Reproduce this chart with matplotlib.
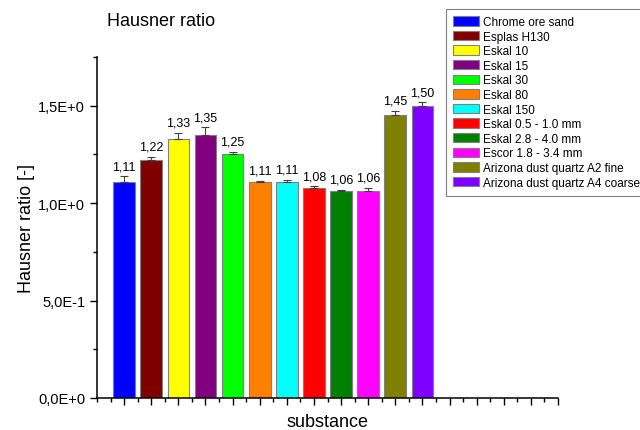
import matplotlib
matplotlib.use("Agg")
import matplotlib.pyplot as plt
from matplotlib.ticker import FixedLocator
from matplotlib.patches import Patch

plt.rcParams['font.family'] = ['Liberation Sans', 'DejaVu Sans']

substances = ["Chrome ore sand", "Esplas H130", "Eskal 10", "Eskal 15", "Eskal 30",
              "Eskal 80", "Eskal 150", "Eskal 0.5 - 1.0 mm", "Eskal 2.8 - 4.0 mm",
              "Escor 1.8 - 3.4 mm", "Arizona dust quartz A2 fine",
              "Arizona dust quartz A4 coarse"]
hausner = [1.11, 1.22, 1.33, 1.35, 1.25, 1.11, 1.11, 1.08, 1.06, 1.06, 1.45, 1.50]
errors = [0.028, 0.017, 0.032, 0.039, 0.014, 0.005, 0.010, 0.007, 0.010, 0.019, 0.024, 0.017]
colors = ["#0000FF", "#800000", "#FFFF00", "#800080", "#00FF00", "#FF8000",
          "#00FFFF", "#FF0000", "#008000", "#FF00FF", "#808000", "#8000FF"]
ytick_labels = ["0,0E+0", "5,0E-1", "1,0E+0", "1,5E+0"]

fig = plt.figure(figsize=(6.4, 4.31), dpi=100)
ax = fig.add_axes([97/640, 1-399/431, (558-97)/640, (399-58)/431])

x = list(range(1, len(hausner) + 1))
ax.bar(x, hausner, width=0.8, color=colors, edgecolor="#808080", linewidth=0.8, zorder=2)
ax.errorbar(x, hausner, yerr=[[0]*len(errors), errors], fmt='none', ecolor="#404040",
            elinewidth=0.8, capsize=3, capthick=0.8, zorder=3)
for xi, v, e in zip(x, hausner, errors):
    ax.annotate(f"{v:.2f}".replace('.', ','), (xi, v + e), xytext=(0, 3),
                textcoords='offset points', ha='center', va='bottom', fontsize=9)

ax.set_xlim(0, 17)
ax.set_ylim(0, 1.75)
ax.xaxis.set_major_locator(FixedLocator(list(range(1, 18))))
ax.xaxis.set_minor_locator(FixedLocator([0] + [i + 0.5 for i in range(17)]))
ax.set_xticklabels([])
ax.yaxis.set_major_locator(FixedLocator([0, 0.5, 1.0, 1.5]))
ax.yaxis.set_minor_locator(FixedLocator([0.25, 0.75, 1.25, 1.75]))
ax.set_yticklabels(ytick_labels)
ax.tick_params(axis='both', which='major', direction='out', length=5, width=1, labelsize=10.5)
ax.tick_params(axis='both', which='minor', direction='out', length=3, width=1)
for s in ['top', 'right']:
    ax.spines[s].set_visible(False)
for s in ['left', 'bottom']:
    ax.spines[s].set_linewidth(1.1)

ax.set_xlabel("substance", fontsize=13, labelpad=2)
ax.set_ylabel("Hausner ratio [-]", fontsize=13, labelpad=2)
fig.text(107/640, 1-22/431, "Hausner ratio", fontsize=13, va='center', ha='left')

handles = [Patch(facecolor=c, edgecolor="#808080", linewidth=0.8) for c in colors]
leg = fig.legend(handles, substances, loc='upper left',
                 bbox_to_anchor=(446/640, 1-10/431), fontsize=8.5,
                 handlelength=2.2, handleheight=0.85, handletextpad=0.3,
                 labelspacing=0.22, borderpad=0.6, borderaxespad=0,
                 fancybox=False, framealpha=1, edgecolor="#808080")
leg.get_frame().set_linewidth(0.8)

fig.savefig("out.png", dpi=100)
